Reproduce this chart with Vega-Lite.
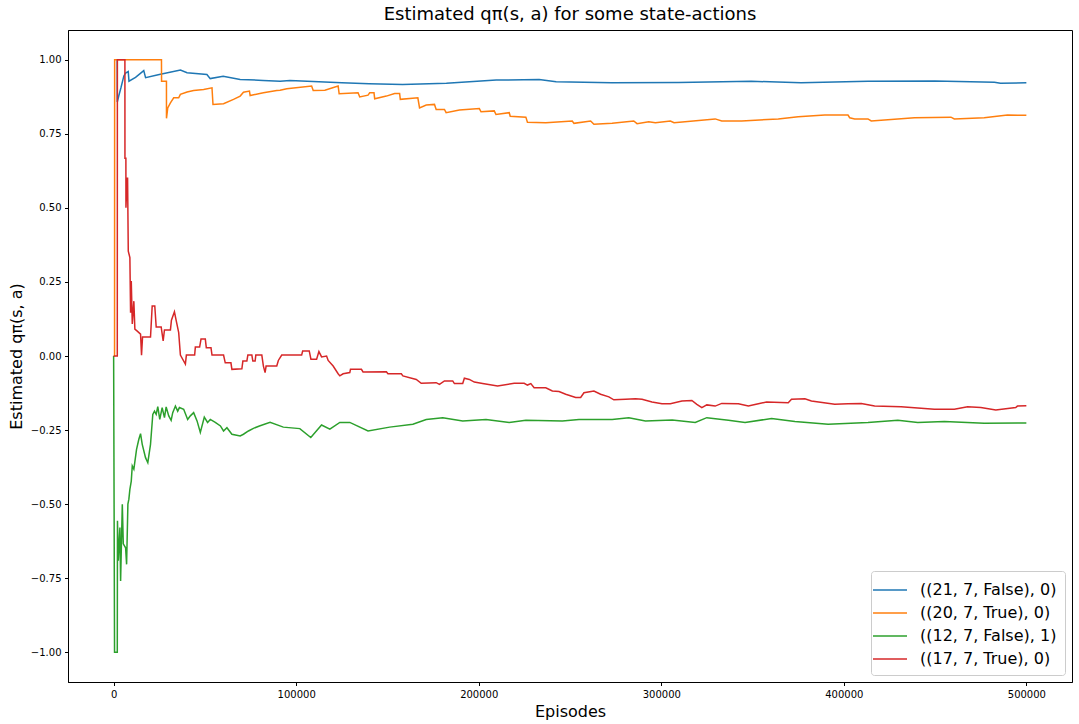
{
  "$schema": "https://vega.github.io/schema/vega-lite/v6.json",
  "width": 1004,
  "height": 652,
  "autosize": {"type": "none"},
  "padding": {"left": 68, "top": 30, "right": 7, "bottom": 42},
  "background": "white",
  "title": {"text": "Estimated qπ(s, a) for some state-actions", "fontSize": 18, "font": "DejaVu Sans", "fontWeight": "normal", "color": "black", "offset": 6},
  "data": {"values": [
    {"s":"((21, 7, False), 0)","x":1950,"y":1.0},{"s":"((21, 7, False), 0)","x":2000,"y":0.857},{"s":"((21, 7, False), 0)","x":2900,"y":0.88},{"s":"((21, 7, False), 0)","x":4000,"y":0.905},{"s":"((21, 7, False), 0)","x":5600,"y":0.945},{"s":"((21, 7, False), 0)","x":6550,"y":0.955},{"s":"((21, 7, False), 0)","x":8000,"y":0.96},{"s":"((21, 7, False), 0)","x":8400,"y":0.927},{"s":"((21, 7, False), 0)","x":12000,"y":0.94},{"s":"((21, 7, False), 0)","x":16500,"y":0.963},{"s":"((21, 7, False), 0)","x":17500,"y":0.939},{"s":"((21, 7, False), 0)","x":25000,"y":0.95},{"s":"((21, 7, False), 0)","x":36600,"y":0.965},{"s":"((21, 7, False), 0)","x":40200,"y":0.956},{"s":"((21, 7, False), 0)","x":51100,"y":0.95},{"s":"((21, 7, False), 0)","x":52900,"y":0.936},{"s":"((21, 7, False), 0)","x":60000,"y":0.944},{"s":"((21, 7, False), 0)","x":69300,"y":0.933},{"s":"((21, 7, False), 0)","x":81900,"y":0.93},{"s":"((21, 7, False), 0)","x":91200,"y":0.927},{"s":"((21, 7, False), 0)","x":96600,"y":0.93},{"s":"((21, 7, False), 0)","x":125000,"y":0.922},{"s":"((21, 7, False), 0)","x":140000,"y":0.919},{"s":"((21, 7, False), 0)","x":158300,"y":0.916},{"s":"((21, 7, False), 0)","x":182300,"y":0.92},{"s":"((21, 7, False), 0)","x":209600,"y":0.931},{"s":"((21, 7, False), 0)","x":233100,"y":0.933},{"s":"((21, 7, False), 0)","x":242400,"y":0.925},{"s":"((21, 7, False), 0)","x":272900,"y":0.922},{"s":"((21, 7, False), 0)","x":309500,"y":0.923},{"s":"((21, 7, False), 0)","x":349300,"y":0.927},{"s":"((21, 7, False), 0)","x":376600,"y":0.922},{"s":"((21, 7, False), 0)","x":413200,"y":0.927},{"s":"((21, 7, False), 0)","x":449800,"y":0.928},{"s":"((21, 7, False), 0)","x":482500,"y":0.924},{"s":"((21, 7, False), 0)","x":485800,"y":0.92},{"s":"((21, 7, False), 0)","x":500000,"y":0.922},

    {"s":"((20, 7, True), 0)","x":0,"y":0},{"s":"((20, 7, True), 0)","x":500,"y":0},{"s":"((20, 7, True), 0)","x":550,"y":1},{"s":"((20, 7, True), 0)","x":26200,"y":1},{"s":"((20, 7, True), 0)","x":26250,"y":0.927},{"s":"((20, 7, True), 0)","x":28930,"y":0.927},{"s":"((20, 7, True), 0)","x":28950,"y":0.802},{"s":"((20, 7, True), 0)","x":29640,"y":0.837},{"s":"((20, 7, True), 0)","x":31110,"y":0.854},{"s":"((20, 7, True), 0)","x":32910,"y":0.871},{"s":"((20, 7, True), 0)","x":35640,"y":0.871},{"s":"((20, 7, True), 0)","x":36570,"y":0.883},{"s":"((20, 7, True), 0)","x":40230,"y":0.891},{"s":"((20, 7, True), 0)","x":43830,"y":0.896},{"s":"((20, 7, True), 0)","x":49290,"y":0.899},{"s":"((20, 7, True), 0)","x":53880,"y":0.905},{"s":"((20, 7, True), 0)","x":54420,"y":0.849},{"s":"((20, 7, True), 0)","x":60210,"y":0.851},{"s":"((20, 7, True), 0)","x":65670,"y":0.866},{"s":"((20, 7, True), 0)","x":69320,"y":0.877},{"s":"((20, 7, True), 0)","x":71120,"y":0.89},{"s":"((20, 7, True), 0)","x":74400,"y":0.894},{"s":"((20, 7, True), 0)","x":74780,"y":0.879},{"s":"((20, 7, True), 0)","x":82040,"y":0.888},{"s":"((20, 7, True), 0)","x":89360,"y":0.896},{"s":"((20, 7, True), 0)","x":91160,"y":0.897},{"s":"((20, 7, True), 0)","x":94850,"y":0.902},{"s":"((20, 7, True), 0)","x":108460,"y":0.911},{"s":"((20, 7, True), 0)","x":109330,"y":0.896},{"s":"((20, 7, True), 0)","x":115720,"y":0.897},{"s":"((20, 7, True), 0)","x":122980,"y":0.911},{"s":"((20, 7, True), 0)","x":123530,"y":0.885},{"s":"((20, 7, True), 0)","x":133900,"y":0.888},{"s":"((20, 7, True), 0)","x":134820,"y":0.874},{"s":"((20, 7, True), 0)","x":139360,"y":0.88},{"s":"((20, 7, True), 0)","x":140280,"y":0.888},{"s":"((20, 7, True), 0)","x":142630,"y":0.888},{"s":"((20, 7, True), 0)","x":143010,"y":0.868},{"s":"((20, 7, True), 0)","x":149400,"y":0.877},{"s":"((20, 7, True), 0)","x":153930,"y":0.886},{"s":"((20, 7, True), 0)","x":156660,"y":0.886},{"s":"((20, 7, True), 0)","x":157040,"y":0.866},{"s":"((20, 7, True), 0)","x":166650,"y":0.871},{"s":"((20, 7, True), 0)","x":167580,"y":0.837},{"s":"((20, 7, True), 0)","x":171240,"y":0.847},{"s":"((20, 7, True), 0)","x":175760,"y":0.849},{"s":"((20, 7, True), 0)","x":176690,"y":0.832},{"s":"((20, 7, True), 0)","x":181220,"y":0.832},{"s":"((20, 7, True), 0)","x":182150,"y":0.821},{"s":"((20, 7, True), 0)","x":189410,"y":0.83},{"s":"((20, 7, True), 0)","x":200330,"y":0.835},{"s":"((20, 7, True), 0)","x":201260,"y":0.824},{"s":"((20, 7, True), 0)","x":208510,"y":0.827},{"s":"((20, 7, True), 0)","x":209450,"y":0.815},{"s":"((20, 7, True), 0)","x":216710,"y":0.821},{"s":"((20, 7, True), 0)","x":217250,"y":0.809},{"s":"((20, 7, True), 0)","x":225820,"y":0.806},{"s":"((20, 7, True), 0)","x":226690,"y":0.789},{"s":"((20, 7, True), 0)","x":236730,"y":0.787},{"s":"((20, 7, True), 0)","x":251250,"y":0.793},{"s":"((20, 7, True), 0)","x":252180,"y":0.785},{"s":"((20, 7, True), 0)","x":261300,"y":0.793},{"s":"((20, 7, True), 0)","x":263100,"y":0.782},{"s":"((20, 7, True), 0)","x":273090,"y":0.785},{"s":"((20, 7, True), 0)","x":284930,"y":0.793},{"s":"((20, 7, True), 0)","x":286730,"y":0.784},{"s":"((20, 7, True), 0)","x":293120,"y":0.79},{"s":"((20, 7, True), 0)","x":296780,"y":0.787},{"s":"((20, 7, True), 0)","x":305000,"y":0.793},{"s":"((20, 7, True), 0)","x":307000,"y":0.787},{"s":"((20, 7, True), 0)","x":329530,"y":0.8},{"s":"((20, 7, True), 0)","x":333130,"y":0.793},{"s":"((20, 7, True), 0)","x":344050,"y":0.793},{"s":"((20, 7, True), 0)","x":364080,"y":0.8},{"s":"((20, 7, True), 0)","x":375000,"y":0.807},{"s":"((20, 7, True), 0)","x":389570,"y":0.813},{"s":"((20, 7, True), 0)","x":402290,"y":0.813},{"s":"((20, 7, True), 0)","x":403220,"y":0.804},{"s":"((20, 7, True), 0)","x":405950,"y":0.8},{"s":"((20, 7, True), 0)","x":413220,"y":0.8},{"s":"((20, 7, True), 0)","x":415020,"y":0.793},{"s":"((20, 7, True), 0)","x":438700,"y":0.804},{"s":"((20, 7, True), 0)","x":458680,"y":0.806},{"s":"((20, 7, True), 0)","x":460530,"y":0.8},{"s":"((20, 7, True), 0)","x":476910,"y":0.804},{"s":"((20, 7, True), 0)","x":489630,"y":0.813},{"s":"((20, 7, True), 0)","x":500000,"y":0.812},

    {"s":"((12, 7, False), 1)","x":0,"y":0},{"s":"((12, 7, False), 1)","x":500,"y":-1},{"s":"((12, 7, False), 1)","x":2000,"y":-1},{"s":"((12, 7, False), 1)","x":2100,"y":-0.556},{"s":"((12, 7, False), 1)","x":2570,"y":-0.691},{"s":"((12, 7, False), 1)","x":3440,"y":-0.579},{"s":"((12, 7, False), 1)","x":3820,"y":-0.759},{"s":"((12, 7, False), 1)","x":4750,"y":-0.5},{"s":"((12, 7, False), 1)","x":5290,"y":-0.634},{"s":"((12, 7, False), 1)","x":6550,"y":-0.647},{"s":"((12, 7, False), 1)","x":7100,"y":-0.703},{"s":"((12, 7, False), 1)","x":7810,"y":-0.5},{"s":"((12, 7, False), 1)","x":8350,"y":-0.483},{"s":"((12, 7, False), 1)","x":8900,"y":-0.45},{"s":"((12, 7, False), 1)","x":9660,"y":-0.422},{"s":"((12, 7, False), 1)","x":10210,"y":-0.371},{"s":"((12, 7, False), 1)","x":11080,"y":-0.382},{"s":"((12, 7, False), 1)","x":12550,"y":-0.315},{"s":"((12, 7, False), 1)","x":13810,"y":-0.281},{"s":"((12, 7, False), 1)","x":14740,"y":-0.262},{"s":"((12, 7, False), 1)","x":15670,"y":-0.298},{"s":"((12, 7, False), 1)","x":17470,"y":-0.343},{"s":"((12, 7, False), 1)","x":18720,"y":-0.36},{"s":"((12, 7, False), 1)","x":20200,"y":-0.298},{"s":"((12, 7, False), 1)","x":21450,"y":-0.197},{"s":"((12, 7, False), 1)","x":22380,"y":-0.186},{"s":"((12, 7, False), 1)","x":23310,"y":-0.197},{"s":"((12, 7, False), 1)","x":24180,"y":-0.171},{"s":"((12, 7, False), 1)","x":25270,"y":-0.214},{"s":"((12, 7, False), 1)","x":26580,"y":-0.174},{"s":"((12, 7, False), 1)","x":27840,"y":-0.208},{"s":"((12, 7, False), 1)","x":28770,"y":-0.172},{"s":"((12, 7, False), 1)","x":30190,"y":-0.202},{"s":"((12, 7, False), 1)","x":31500,"y":-0.217},{"s":"((12, 7, False), 1)","x":32370,"y":-0.191},{"s":"((12, 7, False), 1)","x":33840,"y":-0.169},{"s":"((12, 7, False), 1)","x":35100,"y":-0.186},{"s":"((12, 7, False), 1)","x":36030,"y":-0.174},{"s":"((12, 7, False), 1)","x":38370,"y":-0.18},{"s":"((12, 7, False), 1)","x":40560,"y":-0.214},{"s":"((12, 7, False), 1)","x":42030,"y":-0.202},{"s":"((12, 7, False), 1)","x":43830,"y":-0.191},{"s":"((12, 7, False), 1)","x":45690,"y":-0.219},{"s":"((12, 7, False), 1)","x":47490,"y":-0.258},{"s":"((12, 7, False), 1)","x":49670,"y":-0.206},{"s":"((12, 7, False), 1)","x":51470,"y":-0.224},{"s":"((12, 7, False), 1)","x":52950,"y":-0.214},{"s":"((12, 7, False), 1)","x":55680,"y":-0.224},{"s":"((12, 7, False), 1)","x":58500,"y":-0.236},{"s":"((12, 7, False), 1)","x":60210,"y":-0.253},{"s":"((12, 7, False), 1)","x":62060,"y":-0.242},{"s":"((12, 7, False), 1)","x":64790,"y":-0.264},{"s":"((12, 7, False), 1)","x":69320,"y":-0.27},{"s":"((12, 7, False), 1)","x":71120,"y":-0.264},{"s":"((12, 7, False), 1)","x":73850,"y":-0.253},{"s":"((12, 7, False), 1)","x":76580,"y":-0.244},{"s":"((12, 7, False), 1)","x":79860,"y":-0.236},{"s":"((12, 7, False), 1)","x":85700,"y":-0.224},{"s":"((12, 7, False), 1)","x":92960,"y":-0.24},{"s":"((12, 7, False), 1)","x":102000,"y":-0.245},{"s":"((12, 7, False), 1)","x":108000,"y":-0.275},{"s":"((12, 7, False), 1)","x":113900,"y":-0.233},{"s":"((12, 7, False), 1)","x":118450,"y":-0.247},{"s":"((12, 7, False), 1)","x":123900,"y":-0.224},{"s":"((12, 7, False), 1)","x":129370,"y":-0.224},{"s":"((12, 7, False), 1)","x":139360,"y":-0.253},{"s":"((12, 7, False), 1)","x":151200,"y":-0.24},{"s":"((12, 7, False), 1)","x":163920,"y":-0.23},{"s":"((12, 7, False), 1)","x":171240,"y":-0.214},{"s":"((12, 7, False), 1)","x":180300,"y":-0.208},{"s":"((12, 7, False), 1)","x":191220,"y":-0.219},{"s":"((12, 7, False), 1)","x":203980,"y":-0.214},{"s":"((12, 7, False), 1)","x":216710,"y":-0.224},{"s":"((12, 7, False), 1)","x":225820,"y":-0.217},{"s":"((12, 7, False), 1)","x":245800,"y":-0.219},{"s":"((12, 7, False), 1)","x":254910,"y":-0.214},{"s":"((12, 7, False), 1)","x":273090,"y":-0.214},{"s":"((12, 7, False), 1)","x":282210,"y":-0.208},{"s":"((12, 7, False), 1)","x":291320,"y":-0.219},{"s":"((12, 7, False), 1)","x":306000,"y":-0.216},{"s":"((12, 7, False), 1)","x":318610,"y":-0.224},{"s":"((12, 7, False), 1)","x":324950,"y":-0.208},{"s":"((12, 7, False), 1)","x":336790,"y":-0.217},{"s":"((12, 7, False), 1)","x":345900,"y":-0.224},{"s":"((12, 7, False), 1)","x":360420,"y":-0.211},{"s":"((12, 7, False), 1)","x":373200,"y":-0.221},{"s":"((12, 7, False), 1)","x":391380,"y":-0.23},{"s":"((12, 7, False), 1)","x":413220,"y":-0.224},{"s":"((12, 7, False), 1)","x":429600,"y":-0.217},{"s":"((12, 7, False), 1)","x":440500,"y":-0.224},{"s":"((12, 7, False), 1)","x":455080,"y":-0.221},{"s":"((12, 7, False), 1)","x":476910,"y":-0.227},{"s":"((12, 7, False), 1)","x":500000,"y":-0.226},

    {"s":"((17, 7, True), 0)","x":0,"y":0},{"s":"((17, 7, True), 0)","x":2000,"y":0},{"s":"((17, 7, True), 0)","x":2050,"y":1},{"s":"((17, 7, True), 0)","x":6170,"y":1},{"s":"((17, 7, True), 0)","x":6200,"y":0.667},{"s":"((17, 7, True), 0)","x":6710,"y":0.667},{"s":"((17, 7, True), 0)","x":6750,"y":0.5},{"s":"((17, 7, True), 0)","x":7370,"y":0.6},{"s":"((17, 7, True), 0)","x":7640,"y":0.6},{"s":"((17, 7, True), 0)","x":8020,"y":0.354},{"s":"((17, 7, True), 0)","x":8900,"y":0.332},{"s":"((17, 7, True), 0)","x":9280,"y":0.146},{"s":"((17, 7, True), 0)","x":9660,"y":0.253},{"s":"((17, 7, True), 0)","x":10210,"y":0.108},{"s":"((17, 7, True), 0)","x":11080,"y":0.185},{"s":"((17, 7, True), 0)","x":11630,"y":0.091},{"s":"((17, 7, True), 0)","x":12940,"y":0.084},{"s":"((17, 7, True), 0)","x":14740,"y":0.074},{"s":"((17, 7, True), 0)","x":15280,"y":0.003},{"s":"((17, 7, True), 0)","x":15830,"y":0.064},{"s":"((17, 7, True), 0)","x":20200,"y":0.064},{"s":"((17, 7, True), 0)","x":21120,"y":0.169},{"s":"((17, 7, True), 0)","x":22540,"y":0.169},{"s":"((17, 7, True), 0)","x":23310,"y":0.098},{"s":"((17, 7, True), 0)","x":26040,"y":0.098},{"s":"((17, 7, True), 0)","x":27130,"y":0.051},{"s":"((17, 7, True), 0)","x":27840,"y":0.088},{"s":"((17, 7, True), 0)","x":31110,"y":0.088},{"s":"((17, 7, True), 0)","x":31660,"y":0.121},{"s":"((17, 7, True), 0)","x":33300,"y":0.149},{"s":"((17, 7, True), 0)","x":34390,"y":0.116},{"s":"((17, 7, True), 0)","x":35640,"y":0.079},{"s":"((17, 7, True), 0)","x":36570,"y":0.003},{"s":"((17, 7, True), 0)","x":39300,"y":-0.027},{"s":"((17, 7, True), 0)","x":39850,"y":0.003},{"s":"((17, 7, True), 0)","x":44380,"y":0.003},{"s":"((17, 7, True), 0)","x":44760,"y":0.03},{"s":"((17, 7, True), 0)","x":47110,"y":0.03},{"s":"((17, 7, True), 0)","x":47870,"y":0.057},{"s":"((17, 7, True), 0)","x":50220,"y":0.057},{"s":"((17, 7, True), 0)","x":50760,"y":0.028},{"s":"((17, 7, True), 0)","x":53330,"y":0.028},{"s":"((17, 7, True), 0)","x":53880,"y":0.003},{"s":"((17, 7, True), 0)","x":60210,"y":0.003},{"s":"((17, 7, True), 0)","x":61140,"y":-0.023},{"s":"((17, 7, True), 0)","x":64250,"y":-0.023},{"s":"((17, 7, True), 0)","x":64790,"y":-0.045},{"s":"((17, 7, True), 0)","x":70250,"y":-0.043},{"s":"((17, 7, True), 0)","x":70800,"y":-0.017},{"s":"((17, 7, True), 0)","x":72980,"y":-0.017},{"s":"((17, 7, True), 0)","x":73530,"y":0.003},{"s":"((17, 7, True), 0)","x":75710,"y":0.003},{"s":"((17, 7, True), 0)","x":76260,"y":-0.017},{"s":"((17, 7, True), 0)","x":77510,"y":-0.017},{"s":"((17, 7, True), 0)","x":77890,"y":0.003},{"s":"((17, 7, True), 0)","x":81170,"y":0.003},{"s":"((17, 7, True), 0)","x":82040,"y":-0.034},{"s":"((17, 7, True), 0)","x":82970,"y":-0.056},{"s":"((17, 7, True), 0)","x":83520,"y":-0.034},{"s":"((17, 7, True), 0)","x":89360,"y":-0.034},{"s":"((17, 7, True), 0)","x":90230,"y":-0.015},{"s":"((17, 7, True), 0)","x":92090,"y":0.003},{"s":"((17, 7, True), 0)","x":103000,"y":0.003},{"s":"((17, 7, True), 0)","x":103550,"y":0.017},{"s":"((17, 7, True), 0)","x":107150,"y":0.017},{"s":"((17, 7, True), 0)","x":108080,"y":-0.011},{"s":"((17, 7, True), 0)","x":111190,"y":-0.011},{"s":"((17, 7, True), 0)","x":112450,"y":0.015},{"s":"((17, 7, True), 0)","x":113920,"y":-0.003},{"s":"((17, 7, True), 0)","x":116650,"y":0},{"s":"((17, 7, True), 0)","x":117520,"y":-0.015},{"s":"((17, 7, True), 0)","x":120250,"y":-0.034},{"s":"((17, 7, True), 0)","x":122980,"y":-0.06},{"s":"((17, 7, True), 0)","x":123910,"y":-0.067},{"s":"((17, 7, True), 0)","x":125710,"y":-0.06},{"s":"((17, 7, True), 0)","x":129370,"y":-0.056},{"s":"((17, 7, True), 0)","x":129750,"y":-0.045},{"s":"((17, 7, True), 0)","x":135750,"y":-0.045},{"s":"((17, 7, True), 0)","x":136630,"y":-0.054},{"s":"((17, 7, True), 0)","x":149400,"y":-0.053},{"s":"((17, 7, True), 0)","x":150270,"y":-0.06},{"s":"((17, 7, True), 0)","x":157590,"y":-0.06},{"s":"((17, 7, True), 0)","x":158460,"y":-0.067},{"s":"((17, 7, True), 0)","x":165780,"y":-0.079},{"s":"((17, 7, True), 0)","x":168500,"y":-0.092},{"s":"((17, 7, True), 0)","x":176690,"y":-0.09},{"s":"((17, 7, True), 0)","x":178490,"y":-0.096},{"s":"((17, 7, True), 0)","x":181220,"y":-0.084},{"s":"((17, 7, True), 0)","x":185750,"y":-0.084},{"s":"((17, 7, True), 0)","x":186680,"y":-0.093},{"s":"((17, 7, True), 0)","x":191220,"y":-0.093},{"s":"((17, 7, True), 0)","x":192140,"y":-0.075},{"s":"((17, 7, True), 0)","x":194870,"y":-0.079},{"s":"((17, 7, True), 0)","x":197600,"y":-0.088},{"s":"((17, 7, True), 0)","x":202130,"y":-0.093},{"s":"((17, 7, True), 0)","x":210320,"y":-0.101},{"s":"((17, 7, True), 0)","x":219430,"y":-0.092},{"s":"((17, 7, True), 0)","x":224890,"y":-0.092},{"s":"((17, 7, True), 0)","x":226690,"y":-0.098},{"s":"((17, 7, True), 0)","x":228540,"y":-0.093},{"s":"((17, 7, True), 0)","x":230350,"y":-0.107},{"s":"((17, 7, True), 0)","x":236730,"y":-0.107},{"s":"((17, 7, True), 0)","x":240340,"y":-0.118},{"s":"((17, 7, True), 0)","x":243990,"y":-0.12},{"s":"((17, 7, True), 0)","x":247650,"y":-0.129},{"s":"((17, 7, True), 0)","x":253110,"y":-0.14},{"s":"((17, 7, True), 0)","x":255840,"y":-0.14},{"s":"((17, 7, True), 0)","x":257640,"y":-0.124},{"s":"((17, 7, True), 0)","x":263100,"y":-0.118},{"s":"((17, 7, True), 0)","x":266760,"y":-0.129},{"s":"((17, 7, True), 0)","x":271290,"y":-0.138},{"s":"((17, 7, True), 0)","x":274020,"y":-0.148},{"s":"((17, 7, True), 0)","x":280410,"y":-0.146},{"s":"((17, 7, True), 0)","x":285870,"y":-0.144},{"s":"((17, 7, True), 0)","x":289470,"y":-0.146},{"s":"((17, 7, True), 0)","x":294920,"y":-0.155},{"s":"((17, 7, True), 0)","x":300380,"y":-0.161},{"s":"((17, 7, True), 0)","x":304970,"y":-0.161},{"s":"((17, 7, True), 0)","x":311300,"y":-0.152},{"s":"((17, 7, True), 0)","x":316750,"y":-0.15},{"s":"((17, 7, True), 0)","x":319490,"y":-0.163},{"s":"((17, 7, True), 0)","x":322220,"y":-0.174},{"s":"((17, 7, True), 0)","x":324950,"y":-0.165},{"s":"((17, 7, True), 0)","x":329530,"y":-0.169},{"s":"((17, 7, True), 0)","x":333130,"y":-0.16},{"s":"((17, 7, True), 0)","x":342250,"y":-0.161},{"s":"((17, 7, True), 0)","x":347710,"y":-0.169},{"s":"((17, 7, True), 0)","x":353170,"y":-0.161},{"s":"((17, 7, True), 0)","x":357700,"y":-0.155},{"s":"((17, 7, True), 0)","x":369550,"y":-0.158},{"s":"((17, 7, True), 0)","x":371350,"y":-0.146},{"s":"((17, 7, True), 0)","x":378670,"y":-0.144},{"s":"((17, 7, True), 0)","x":382260,"y":-0.152},{"s":"((17, 7, True), 0)","x":395030,"y":-0.163},{"s":"((17, 7, True), 0)","x":402290,"y":-0.161},{"s":"((17, 7, True), 0)","x":409560,"y":-0.16},{"s":"((17, 7, True), 0)","x":416870,"y":-0.169},{"s":"((17, 7, True), 0)","x":431390,"y":-0.171},{"s":"((17, 7, True), 0)","x":449620,"y":-0.18},{"s":"((17, 7, True), 0)","x":460530,"y":-0.18},{"s":"((17, 7, True), 0)","x":467800,"y":-0.171},{"s":"((17, 7, True), 0)","x":475060,"y":-0.174},{"s":"((17, 7, True), 0)","x":483250,"y":-0.182},{"s":"((17, 7, True), 0)","x":494170,"y":-0.174},{"s":"((17, 7, True), 0)","x":495100,"y":-0.169},{"s":"((17, 7, True), 0)","x":500000,"y":-0.168}
  ]},
  "mark": {"type": "line", "strokeWidth": 1.5, "clip": true},
  "encoding": {
    "x": {"field": "x", "type": "quantitative",
          "scale": {"domain": [-25000, 525000], "nice": false, "zero": false},
          "axis": {"title": "Episodes", "values": [0, 100000, 200000, 300000, 400000, 500000], "format": "d", "titlePadding": 4}},
    "y": {"field": "y", "type": "quantitative",
          "scale": {"domain": [-1.1, 1.1], "nice": false, "zero": false},
          "axis": {"title": "Estimated qπ(s, a)", "values": [-1, -0.75, -0.5, -0.25, 0, 0.25, 0.5, 0.75, 1], "format": ".2f", "titlePadding": 6}},
    "color": {"field": "s", "type": "nominal",
              "scale": {"domain": ["((21, 7, False), 0)", "((20, 7, True), 0)", "((12, 7, False), 1)", "((17, 7, True), 0)"],
                        "range": ["#1f77b4", "#ff7f0e", "#2ca02c", "#d62728"]},
              "legend": {"title": null, "orient": "bottom-right", "offset": 7, "symbolType": "M-1.7,0L1.7,0", "symbolSize": 400, "symbolStrokeWidth": 1.5,
                         "labelFontSize": 16, "labelFont": "DejaVu Sans", "labelColor": "black", "rowPadding": 4, "labelOffset": 19,
                         "fillColor": "white", "strokeColor": "#cccccc", "cornerRadius": 3, "padding": 8, "labelLimit": 300}}
  },
  "config": {
    "font": "DejaVu Sans",
    "view": {"stroke": "black", "strokeWidth": 1},
    "axis": {"grid": false, "domainColor": "black", "tickColor": "black", "tickSize": 3.5, "labelPadding": 3.5,
             "labelColor": "black", "labelFontSize": 10, "labelFont": "DejaVu Sans", "titleFont": "DejaVu Sans",
             "titleFontSize": 16, "titleFontWeight": "normal", "titleColor": "black"}
  }
}
